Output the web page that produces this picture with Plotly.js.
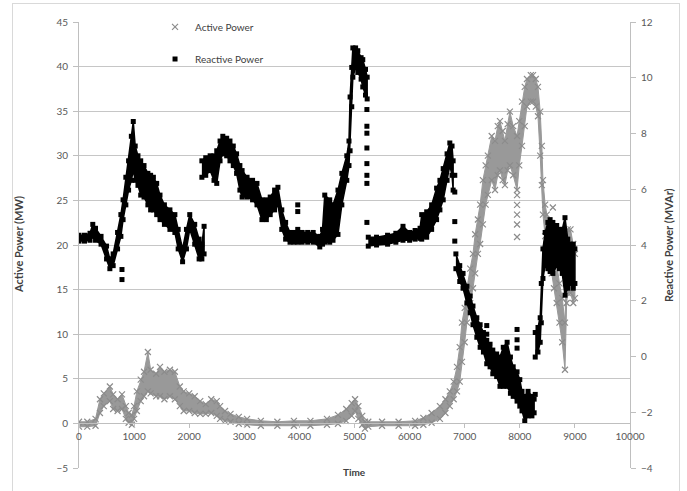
<!DOCTYPE html>
<html>
<head>
<meta charset="utf-8">
<script src="https://cdn.plot.ly/plotly-3.0.1.min.js"></script>
<style>
  html, body { margin: 0; padding: 0; background: #ffffff; }
  #frame { position: absolute; left: 12px; top: 3px; width: 666px; height: 500px; border: 1px solid #d9d9d9; }
  #chart { position: absolute; left: 0; top: 0; width: 687px; height: 491px; }
</style>
</head>
<body>
<div id="frame"></div>
<div id="chart"></div>
<script>
// Active power (MW): sampled upper / lower edges of the scatter band
const activeTime = [0,150,300,380,450,560,620,700,780,850,
  900,960,1000,1050,1120,1180,1250,1300,1400,1470,
  1550,1650,1740,1830,1900,2000,2100,2200,2300,2400,
  2500,2560,2650,2750,2900,3050,3300,3600,3900,4200,
  4500,4700,4850,4950,5010,5070,5140,5190,5250,5500,
  5800,6100,6250,6400,6550,6650,6730,6800,6860,6910,
  6950,7000,7040,7100,7150,7190,7240,7280,7330,7380,
  7420,7490,7550,7600,7640,7690,7730,7780,7820,7880,
  7950,7990,8040,8090,8130,8200,8240,8290,8330,8370,
  8400,8420,8460,8490,8540,8580,8620,8670,8720,8770,
  8820,8850,8870,8920,8970,9000];
const activeHigh = [0.18,0.18,0.51,2.71,3.37,4.14,3.26,2.71,3.26,1.94,
  1.17,0.95,1.94,3.59,4.91,5.79,8.00,6.01,5.57,6.34,
  5.79,6.01,5.79,4.14,3.59,3.37,3.04,2.49,2.16,2.71,
  2.49,1.94,1.39,1.06,0.73,0.51,0.29,0.18,0.29,0.29,
  0.51,0.95,1.61,2.27,2.71,1.94,0.84,0.18,0.18,0.18,
  0.18,0.29,0.62,1.17,1.94,2.71,3.59,4.69,6.34,8.55,
  11.30,12.95,15.15,17.36,19.01,21.21,22.86,24.52,27.27,28.92,
  30.02,32.22,31.67,33.33,33.88,32.78,31.67,33.55,34.96,33.33,
  32.22,33.88,36.07,37.73,38.61,39.05,39.05,38.61,37.73,34.96,
  31.12,27.27,24.52,23.41,21.76,20.66,19.56,17.91,15.70,14.05,
  11.30,19.01,21.76,21.76,20.11,19.01];
const activeLow = [-0.37,-0.37,-0.26,1.17,1.94,2.49,1.61,1.39,1.61,0.51,
  0.07,-0.15,0.51,1.39,2.49,3.04,3.59,3.37,3.04,3.04,
  2.71,3.04,2.71,1.94,1.39,1.39,1.17,1.06,1.06,1.17,
  0.84,0.51,0.29,0.18,-0.04,-0.15,-0.26,-0.26,-0.26,-0.26,
  -0.15,-0.04,0.29,0.84,1.39,0.51,-0.15,-0.59,-0.37,-0.26,
  -0.26,-0.26,-0.15,0.07,0.51,1.17,1.94,2.71,3.59,4.69,
  6.89,9.10,11.30,13.50,15.15,16.81,19.01,20.11,22.31,24.52,
  25.62,27.27,26.17,27.82,28.37,27.27,26.72,28.37,28.92,27.82,
  26.17,28.92,31.12,33.33,35.52,36.07,36.07,35.52,34.43,30.02,
  26.72,23.41,20.99,20.11,17.91,16.81,15.15,13.50,11.30,9.10,
  6.01,13.50,14.60,14.60,13.50,14.05];
// isolated active-power readings away from the band
const activeDotTime  = [7950,7950,7950,7950,7950,8600];
const activeDotValue = [25.6,24.5,23.4,22.3,20.9,24.2];

// Reactive power (MVAr): sampled upper / lower edges, null separates the runs
const reactiveTime = [0,100,200,250,300,400,500,560,620,700,
  760,800,850,900,950,985,1020,1070,1120,1180,
  1250,1300,1350,1410,1470,1550,1650,1740,1800,1880,
  1950,2010,2100,2180,2230,2270, null,
  2230,2300,2380,2450,2500,2560,2610,2680,2740,2800,
  2860,2920,2960,3050,3150,3230,3320,3400,3470,3550,
  3610,3680,3750,3830,3900,3970,4050,4150,4250,4370,
  4420,4460,4550,4610,4700,4770,4860,4900,4920,4950,
  4970,5020,5060,5120,5150,5200,5230, null,
  5250,5400,5600,5750,5880,6000,6100,6190,6220,6310,
  6400,6490,6550,6610,6680,6730,6770,6790, null,
  6840,6910,6970,7040,7100,7150,7220,7280,7340,7400,
  7460,7510,7580,7640,7700,7770,7830,7880,7950,8000,
  8040,8090,8150,8220,8260, null,
  8280,8330,8370,8390,8420,8460,8510,8550,8600,8670,
  8720,8770,8820,8870,8920,8970,9000];
const reactiveHigh = [4.35,4.35,4.42,4.74,4.60,4.31,3.96,3.50,3.68,4.45,
  5.09,5.62,6.43,7.02,7.90,8.43,7.55,7.20,7.02,6.85,
  6.57,6.50,6.43,6.21,5.79,5.44,5.26,5.09,4.56,3.86,
  4.56,5.09,4.74,4.21,4.03,4.67, null,
  7.02,7.13,7.20,7.20,7.38,7.73,7.90,7.83,7.73,7.55,
  7.27,6.85,6.67,6.43,6.32,6.21,5.62,5.62,5.72,5.97,
  6.07,5.26,4.81,4.45,4.45,4.56,4.45,4.45,4.45,4.31,
  4.56,5.79,5.62,5.44,5.97,6.57,7.20,7.73,9.31,10.37,
  11.07,11.07,10.97,10.72,10.65,10.30,10.02, null,
  4.28,4.28,4.35,4.42,4.67,4.45,4.52,4.60,5.09,5.19,
  5.44,6.04,6.32,6.74,7.27,7.66,7.55,7.02, null,
  3.68,3.26,2.98,2.52,2.17,1.81,1.39,1.14,0.86,0.58,
  0.44,0.23,0.09,-0.02,0.33,0.51,-0.02,-0.37,-0.55,-0.83,
  -1.25,-1.43,-1.25,-1.43,-1.53, null,
  0.86,1.04,1.39,2.62,3.86,4.45,4.81,4.91,4.81,4.70,
  4.56,4.56,4.98,4.21,4.03,4.03,3.86];
const reactiveLow = [4.14,4.14,4.17,4.31,4.17,4.03,3.50,3.15,3.26,3.86,
  4.31,4.91,5.44,5.97,6.32,6.67,6.32,6.14,5.79,5.72,
  5.44,5.26,5.26,5.09,4.91,4.74,4.56,4.45,3.86,3.40,
  3.86,4.56,4.03,3.50,3.50,3.68, null,
  6.43,6.50,6.67,6.32,6.21,7.02,7.27,7.20,7.02,6.85,
  6.57,5.97,5.72,5.72,5.62,5.44,4.91,4.91,5.09,5.26,
  5.44,4.56,4.21,4.10,4.10,4.10,4.10,4.10,4.10,3.93,
  4.03,4.10,4.10,4.17,4.38,5.44,6.32,6.85,7.38,8.96,
  10.02,10.37,10.19,9.95,9.67,9.38,9.24, null,
  3.96,4.00,4.03,4.10,4.17,4.17,4.21,4.24,4.21,4.28,
  4.56,4.91,5.26,5.62,6.32,6.85,6.50,5.97, null,
  3.15,2.69,2.45,1.92,1.57,1.14,0.69,0.33,0.16,-0.26,
  -0.37,-0.62,-0.72,-1.07,-1.07,-1.07,-1.32,-1.43,-1.60,-1.78,
  -1.95,-2.31,-2.13,-2.13,-2.02, null,
  -0.02,0.16,0.51,1.21,2.80,3.26,3.15,3.05,2.98,3.26,
  3.15,2.98,2.20,2.45,2.62,2.45,2.62];
// isolated reactive-power readings
const reactiveDotTime  = [780,780,3970,3970,5225,5225,5225,5225,5225,5225,5225,5225,
  6820,6820,6820,6820,7400,7400,7950,7950,7950,8280];
const reactiveDotValue = [3.12,2.76,5.44,5.20,8.86,8.26,8.01,7.48,6.92,6.50,6.21,4.81,
  6.50,5.90,4.84,4.14,1.11,0.80,0.97,0.60,0.30,-1.36];

// Closed outline (upper edge forward, lower edge back) for each run of samples
function bandOutline(t, hi, lo) {
  const xs = [], ys = [];
  let run = [];
  const close = () => {
    if (!run.length) return;
    run.forEach(i => { xs.push(t[i]); ys.push(hi[i]); });
    run.slice().reverse().forEach(i => { xs.push(t[i]); ys.push(lo[i]); });
    xs.push(null); ys.push(null);
    run = [];
  };
  t.forEach((v, i) => { if (v === null) close(); else run.push(i); });
  close();
  return { x: xs, y: ys };
}

// Edge samples plus isolated readings, as marker positions
function edgePoints(t, hi, lo, dt, dv) {
  const xs = [], ys = [];
  t.forEach((v, i) => {
    if (v === null) return;
    xs.push(v, v); ys.push(hi[i], lo[i]);
  });
  return { x: xs.concat(dt), y: ys.concat(dv) };
}

const GREY = '#8c8c8c';
const activeBand = bandOutline(activeTime, activeHigh, activeLow);
const activePts = edgePoints(activeTime, activeHigh, activeLow, activeDotTime, activeDotValue);
const reactiveBand = bandOutline(reactiveTime, reactiveHigh, reactiveLow);
const reactivePts = edgePoints(reactiveTime, reactiveHigh, reactiveLow, reactiveDotTime, reactiveDotValue);

const traces = [
  { type: 'scatter', mode: 'lines', x: activeBand.x, y: activeBand.y,
    fill: 'toself', fillcolor: '#999999', line: { color: '#999999', width: 1 },
    showlegend: false, hoverinfo: 'skip' },
  { type: 'scatter', mode: 'markers', name: 'Active Power', x: activePts.x, y: activePts.y,
    marker: { symbol: 'x-thin', size: 6, color: GREY, line: { color: GREY, width: 1.2 } },
    legend: 'legend' },
  { type: 'scatter', mode: 'lines', x: reactiveBand.x, y: reactiveBand.y, yaxis: 'y2',
    fill: 'toself', fillcolor: '#000000', line: { color: '#000000', width: 1.5 },
    showlegend: false, hoverinfo: 'skip' },
  { type: 'scatter', mode: 'markers', name: 'Reactive Power', x: reactivePts.x, y: reactivePts.y,
    yaxis: 'y2', marker: { symbol: 'square', size: 5, color: '#000000' },
    legend: 'legend2' }
];

const AXIS_GREY = '#bfbfbf';
const layout = {
  width: 687, height: 491,
  margin: { l: 79, r: 57, t: 14, b: 23 },
  paper_bgcolor: 'rgba(0,0,0,0)', plot_bgcolor: 'rgba(0,0,0,0)',
  font: { family: 'Lato, "Open Sans", sans-serif', size: 10, color: '#595959' },
  xaxis: {
    range: [0, 10000], tick0: 0, dtick: 1000, tickformat: 'd',
    anchor: 'free', position: 0.1,
    showline: true, linecolor: AXIS_GREY, linewidth: 1,
    ticks: 'outside', ticklen: 4, tickcolor: AXIS_GREY,
    showgrid: false, zeroline: false
  },
  yaxis: {
    range: [-5, 45], tick0: -5, dtick: 5,
    showgrid: true, gridcolor: '#c6c6c6', gridwidth: 1,
    showline: true, linecolor: AXIS_GREY,
    ticks: 'outside', ticklen: 5, tickcolor: AXIS_GREY,
    ticklabelstandoff: 3, zeroline: false
  },
  yaxis2: {
    overlaying: 'y', side: 'right',
    range: [-4, 12], tick0: -4, dtick: 2,
    showgrid: false, showline: true, linecolor: AXIS_GREY,
    ticks: 'outside', ticklen: 5, tickcolor: AXIS_GREY,
    ticklabelstandoff: 3, zeroline: false
  },
  legend: {
    x: 0.138, y: 0.989, xanchor: 'left', yanchor: 'middle',
    bgcolor: 'rgba(0,0,0,0)', itemwidth: 30,
    font: { size: 10, color: '#404040' }
  },
  legend2: {
    x: 0.138, y: 0.917, xanchor: 'left', yanchor: 'middle',
    bgcolor: 'rgba(0,0,0,0)', itemwidth: 30,
    font: { size: 10, color: '#404040' }
  },
  annotations: [
    { text: 'Active Power (MW)', xref: 'paper', yref: 'paper', x: -0.1107, y: 0.5,
      textangle: -90, showarrow: false, xanchor: 'center', yanchor: 'middle',
      font: { size: 11, color: '#404040', weight: 'bold' } },
    { text: 'Reactive Power (MVAr)', xref: 'paper', yref: 'paper', x: 1.069, y: 0.5,
      textangle: -90, showarrow: false, xanchor: 'center', yanchor: 'middle',
      font: { size: 11, color: '#404040', weight: 'bold' } },
    { text: 'Time', xref: 'paper', yref: 'paper', x: 0.5, y: -0.008,
      showarrow: false, xanchor: 'center', yanchor: 'middle',
      font: { size: 10, color: '#404040', weight: 'bold' } }
  ]
};

Plotly.newPlot('chart', traces, layout, { displayModeBar: false, staticPlot: true });
</script>
</body>
</html>
